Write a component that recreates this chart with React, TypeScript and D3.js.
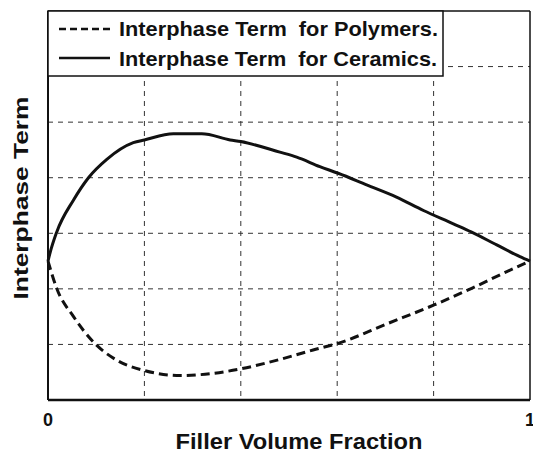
import React from "react";
import * as d3 from "d3";

const xTickLabels = ["0", "1"];
const xTickValues = [0, 1];
const gridX = [0.2, 0.4, 0.6, 0.8];
const gridY = [1, 2, 3, 4, 5, 6];

const polyX = [0, 0.018, 0.053, 0.098, 0.142, 0.2, 0.274, 0.343, 0.4, 0.481, 0.55, 0.602, 0.703, 0.801, 0.879, 0.952, 1.0];
const polyY = [2.5, 2.01, 1.5, 1.01, 0.72, 0.53, 0.44, 0.48, 0.56, 0.73, 0.9, 1.02, 1.37, 1.71, 2.01, 2.31, 2.5];

const ceramX = [0, 0.004, 0.018, 0.053, 0.084, 0.122, 0.177, 0.2, 0.26, 0.319, 0.378, 0.4, 0.481, 0.516, 0.564, 0.602, 0.661, 0.723, 0.779, 0.841, 0.879, 0.931, 0.979, 1.0];
const ceramY = [2.5, 2.64, 3.02, 3.6, 4.0, 4.33, 4.63, 4.68, 4.79, 4.79, 4.68, 4.65, 4.46, 4.37, 4.2, 4.08, 3.87, 3.65, 3.41, 3.17, 3.02, 2.79, 2.58, 2.5];

const legendLabels = ["Interphase Term  for Polymers.", "Interphase Term  for Ceramics."];

const FONT = "'Liberation Sans', Arial, Helvetica, sans-serif";

export default function App() {
  const W = 533, H = 452;
  const L = 48, R = 530, T = 11, B = 400;
  const x = d3.scaleLinear().domain([0, 1]).range([L, R]);
  const y = d3.scaleLinear().domain([0, 7]).range([B, T]);
  const line = d3
    .line<[number, number]>()
    .x((d) => x(d[0]))
    .y((d) => y(d[1]))
    .curve(d3.curveMonotoneX);
  const polyPath = line(polyX.map((v, i) => [v, polyY[i]]) as [number, number][]) || "";
  const ceramPath = line(ceramX.map((v, i) => [v, ceramY[i]]) as [number, number][]) || "";

  return (
    <svg
      width={W}
      height={H}
      style={{ position: "absolute", left: 0, top: 0, background: "#fff" }}
      fontFamily={FONT}
    >
      <rect x={0} y={0} width={W} height={H} fill="#fff" />
      {gridX.map((g) => (
        <line key={"gx" + g} x1={x(g)} x2={x(g)} y1={T} y2={B} stroke="#333" strokeWidth={1} strokeDasharray="5,5" />
      ))}
      {gridY.map((g) => (
        <line key={"gy" + g} x1={L} x2={R} y1={y(g)} y2={y(g)} stroke="#333" strokeWidth={1} strokeDasharray="5,5" />
      ))}
      <path d={ceramPath} fill="none" stroke="#111" strokeWidth={3} strokeLinejoin="round" />
      <path d={polyPath} fill="none" stroke="#111" strokeWidth={3} strokeDasharray="9,5" />
      {/* frame */}
      <line x1={L} x2={R} y1={T} y2={T} stroke="#111" strokeWidth={1.5} />
      <line x1={R} x2={R} y1={T} y2={B} stroke="#111" strokeWidth={1.5} />
      <line x1={L} x2={L} y1={T} y2={B} stroke="#111" strokeWidth={2} />
      <line x1={L} x2={R} y1={B} y2={B} stroke="#111" strokeWidth={2.5} />
      {/* legend */}
      <rect x={L} y={T} width={395} height={65} fill="#fff" stroke="#111" strokeWidth={1.5} />
      <line x1={59} x2={110} y1={29} y2={29} stroke="#111" strokeWidth={2.5} strokeDasharray="7,4" />
      <line x1={59} x2={110} y1={58} y2={58} stroke="#111" strokeWidth={2.5} />
      <text x={119} y={36} fontSize={20.5} fontWeight="bold" fill="#111" xmlSpace="preserve" style={{ whiteSpace: "pre" }} textLength={319} lengthAdjust="spacingAndGlyphs">
        {legendLabels[0]}
      </text>
      <text x={119} y={66} fontSize={20.5} fontWeight="bold" fill="#111" xmlSpace="preserve" style={{ whiteSpace: "pre" }} textLength={318} lengthAdjust="spacingAndGlyphs">
        {legendLabels[1]}
      </text>
      {/* tick labels */}
      {xTickValues.map((v, i) => (
        <text key={"t" + v} x={x(v)} y={426} fontSize={18} fontWeight="bold" textAnchor="middle" fill="#111">
          {xTickLabels[i]}
        </text>
      ))}
      <text x={299} y={449} fontSize={22} fontWeight="bold" textAnchor="middle" fill="#111" textLength={247} lengthAdjust="spacingAndGlyphs">
        Filler Volume Fraction
      </text>
      <text
        transform={`translate(28,198) rotate(-90)`}
        fontSize={21}
        fontWeight="bold"
        textAnchor="middle"
        fill="#111"
        textLength={203}
        lengthAdjust="spacingAndGlyphs"
      >
        Interphase Term
      </text>
    </svg>
  );
}
